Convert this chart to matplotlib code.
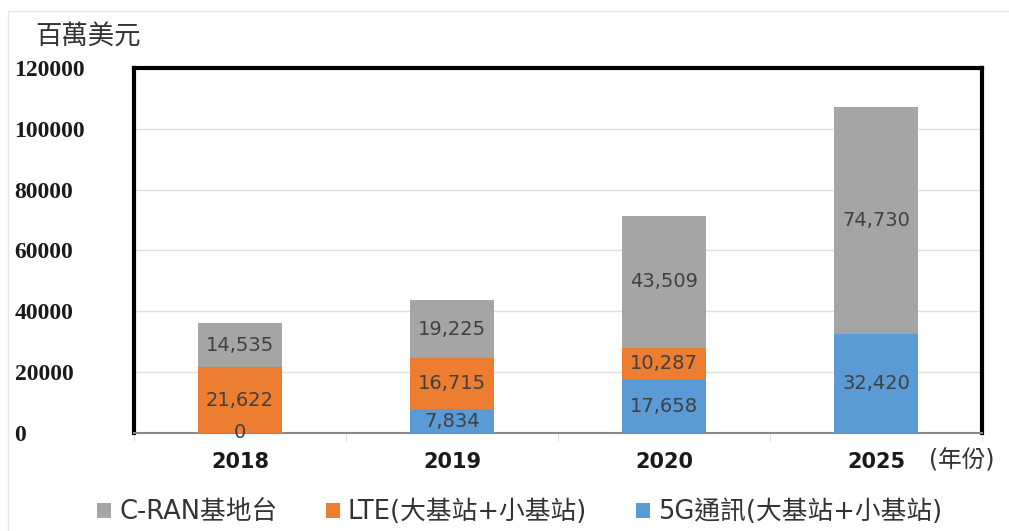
import matplotlib.pyplot as plt
import numpy as np

plt.rcParams['font.family'] = ['DejaVu Sans', 'Noto Sans CJK TC']

years = ['2018', '2019', '2020', '2025']
g5 = [0, 7834, 17658, 32420]
lte = [21622, 16715, 10287, 0]
cran = [14535, 19225, 43509, 74730]
yticks = [0, 20000, 40000, 60000, 80000, 100000, 120000]

c_g5 = '#5b9bd5'
c_lte = '#ed7d31'
c_cran = '#a5a5a5'
lab_col = '#404040'

fig = plt.figure(figsize=(10.09, 5.31), dpi=100)
ax = fig.add_axes([0.1328, 0.1846, 0.8404, 0.6874])

x = np.arange(len(years))
w = 0.4
g5 = np.array(g5)
lte = np.array(lte)
cran = np.array(cran)

b1 = ax.bar(x, g5, w, color=c_g5, zorder=3)
b2 = ax.bar(x, lte, w, bottom=g5, color=c_lte, zorder=3)
b3 = ax.bar(x, cran, w, bottom=g5 + lte, color=c_cran, zorder=3)

lab_font = dict(fontsize=14, color=lab_col, ha='center', va='center', zorder=4)
for i in range(len(years)):
    if g5[i] > 0:
        ax.text(x[i], g5[i] / 2, f'{g5[i]:,}', **lab_font)
    else:
        ax.text(x[i], 0, '0', **lab_font)
    if lte[i] > 0:
        ax.text(x[i], g5[i] + lte[i] / 2, f'{lte[i]:,}', **lab_font)
    ax.text(x[i], g5[i] + lte[i] + cran[i] / 2, f'{cran[i]:,}', **lab_font)

ax.set_xlim(-0.5, len(years) - 0.5)
ax.set_ylim(0, 120000)
ax.set_yticks(yticks)
ax.set_yticklabels([str(t) for t in yticks], fontsize=17, fontweight='bold',
                   family='Liberation Serif', color='#1a1a1a')
ax.set_xticks(x)
ax.set_xticklabels(years, fontsize=15, fontweight='bold', color='#1a1a1a')
ax.set_xticks(np.arange(len(years) + 1) - 0.5, minor=True)
ax.tick_params(axis='x', which='major', length=0, pad=14)
ax.tick_params(axis='x', which='minor', length=6, color='#d9d9d9')
ax.tick_params(axis='y', length=0, pad=86)
for lbl in ax.get_yticklabels():
    lbl.set_horizontalalignment('left')

ax.grid(axis='y', color='#e0e0e0', linewidth=1, zorder=0)
for side in ['left', 'top', 'right']:
    ax.spines[side].set_linewidth(3)
    ax.spines[side].set_color('black')
ax.spines['bottom'].set_color('#888888')
ax.spines['bottom'].set_linewidth(1.5)

fig.text(0.035, 0.93, '百萬美元', fontsize=19, color='#333333', va='center')
fig.text(0.921, 0.132, '(年份)', fontsize=17, color='#333333', va='center')

fig.legend([b3, b2, b1], ['C-RAN基地台', 'LTE(大基站+小基站)', '5G通訊(大基站+小基站)'],
           loc='center', bbox_to_anchor=(0.515, 0.035), ncol=3, frameon=False,
           fontsize=18.5, handlelength=0.55, handleheight=0.55, handletextpad=0.3,
           columnspacing=1.9, labelcolor='#333333')

fig.patches.append(plt.Rectangle((0.008, -0.01), 1.1, 0.99, transform=fig.transFigure,
                                 fill=False, edgecolor='#e6e6e6', linewidth=1))

fig.savefig('out.png', dpi=100)
